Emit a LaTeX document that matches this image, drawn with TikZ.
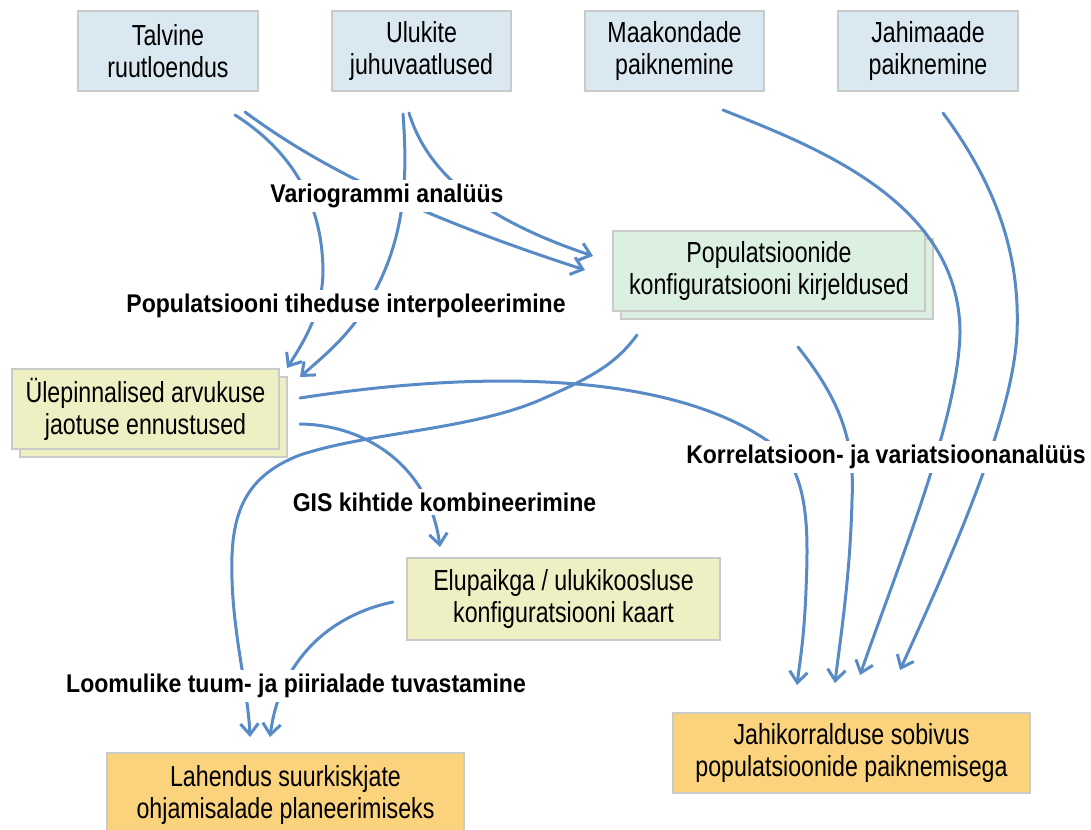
\documentclass[tikz,border=0pt]{standalone}
\usepackage{fontspec}
\setmainfont{Liberation Sans}[FakeStretch=0.8]
\newfontfamily\lblfont{Liberation Sans}[FakeStretch=0.9]
\usetikzlibrary{arrows.meta}
\definecolor{bluefill}{RGB}{218,233,241}
\definecolor{greenfill}{RGB}{220,240,226}
\definecolor{yellowfill}{RGB}{238,240,196}
\definecolor{orangefill}{RGB}{251,211,124}
\definecolor{boxborder}{RGB}{200,203,200}
\definecolor{arrowblue}{RGB}{88,138,198}
\tikzset{
  box/.style={draw=boxborder, line width=0.6pt, align=center, inner sep=0pt,
    font=\fontsize{14.5}{16}\selectfont, text=black},
  conn/.style={draw=arrowblue, line width=1.5pt, line cap=round,
    -{Straight Barb[length=5.5pt,width=9pt,line width=1.5pt]}},
  lbl/.style={font=\lblfont\bfseries\fontsize{12.8}{15}\selectfont, fill=white, inner sep=2pt}
}
\begin{document}
\begin{tikzpicture}[x=0.5pt,y=-0.5pt]
\useasboundingbox (0,0) rectangle (1091,829);
% top boxes
\node[box, fill=bluefill, minimum width=90pt, minimum height=40pt] (talv) at (168,51) {Talvine\\ruutloendus};
\node[box, fill=bluefill, minimum width=89.5pt, minimum height=40pt] (ulu) at (421.5,51) {Ulukite\\juhuvaatlused};
\node[box, fill=bluefill, minimum width=89.5pt, minimum height=40pt] (maak) at (674.5,51) {Maakondade\\paiknemine};
\node[box, fill=bluefill, minimum width=90pt, minimum height=40pt] (jahim) at (928,51) {Jahimaade\\paiknemine};
% population box with shadow
\node[box, fill=greenfill, minimum width=156pt, minimum height=40pt] (popsh) at (777,279) {};
\node[box, fill=greenfill, minimum width=156pt, minimum height=40pt] (pop) at (769,271) {Populatsioonide\\konfiguratsiooni kirjeldused};
% surface predictions with shadow
\node[box, fill=yellowfill, minimum width=133.5pt, minimum height=40pt] (ulesh) at (153.5,417) {};
\node[box, fill=yellowfill, minimum width=133.5pt, minimum height=40pt] (ules) at (145.5,409) {Ülepinnalised arvukuse\\jaotuse ennustused};
\node[box, fill=yellowfill, minimum width=156.5pt, minimum height=41pt] (elu) at (563.5,599) {Elupaikga / ulukikoosluse\\konfiguratsiooni kaart};
\node[box, fill=orangefill, minimum width=178.5pt, minimum height=42pt] (lah) at (285.5,795) {Lahendus suurkiskjate\\ohjamisalade planeerimiseks};
\node[box, fill=orangefill, minimum width=178.5pt, minimum height=40pt] (jahik) at (851.5,753) {Jahikorralduse sobivus\\populatsioonide paiknemisega};

% connector end points
\coordinate (t1) at (235,115);
\coordinate (t2) at (245,112);
\coordinate (u1) at (403,114);
\coordinate (u2) at (409,113);
\coordinate (m1) at (723,110);
\coordinate (j1) at (943,113);
\coordinate (p1) at (637,335);
\coordinate (p2) at (798,347);
\coordinate (s1) at (300,398);
\coordinate (s2) at (300,424);
\coordinate (e1) at (393,602);
\coordinate (inS1) at (287,368);
\coordinate (inS2) at (300,377);
\coordinate (inP1) at (593,256);
\coordinate (inP2) at (585,270);
\coordinate (inE) at (440,547);
\coordinate (inL1) at (250,737);
\coordinate (inL2) at (270,737);
\coordinate (inJ1) at (797,685);
\coordinate (inJ2) at (835,683);
\coordinate (inJ3) at (860,675);
\coordinate (inJ4) at (900,670);

% connectors
\draw[conn] (t1) .. controls (290,150) and (322,200) .. (323,270) .. controls (323,310) and (305,340) .. (inS1);
\draw[conn] (t2) .. controls (310,160) and (400,210) .. (inP2);
\draw[conn] (u1) .. controls (408,180) and (405,240) .. (370,300) .. controls (350,335) and (325,355) .. (inS2);
\draw[conn] (u2) .. controls (425,165) and (470,215) .. (inP1);
\draw[conn] (s1) .. controls (480,370) and (680,370) .. (780,450) .. controls (810,480) and (808,540) .. (806,590) .. controls (804,640) and (800,660) .. (inJ1);
\draw[conn] (s2) .. controls (370,425) and (430,470) .. (inE);
\draw[conn] (p1) .. controls (615,365) and (590,378) .. (540,400) .. controls (470,430) and (370,432) .. (300,455) .. controls (240,478) and (230,520) .. (232,580) .. controls (234,640) and (248,690) .. (inL1);
\draw[conn] (e1) .. controls (330,615) and (280,660) .. (inL2);
\draw[conn] (p2) .. controls (840,400) and (855,440) .. (852,500) .. controls (850,580) and (840,640) .. (inJ2);
\draw[conn] (m1) .. controls (810,145) and (960,200) .. (960,333) .. controls (958,420) and (900,560) .. (inJ3);
\draw[conn] (j1) .. controls (1000,190) and (1020,260) .. (1017,333) .. controls (1013,420) and (950,560) .. (inJ4);

% labels
\node[lbl] (lv) at (387,196) {Variogrammi analüüs};
\node[lbl] (lp) at (346,306) {Populatsiooni tiheduse interpoleerimine};
\node[lbl] (lk) at (886,457) {Korrelatsioon- ja variatsioonanalüüs};
\node[lbl] (lg) at (444.5,502) {GIS kihtide kombineerimine};
\node[lbl] (ll) at (296,686) {Loomulike tuum- ja piirialade tuvastamine};
\end{tikzpicture}
\end{document}
